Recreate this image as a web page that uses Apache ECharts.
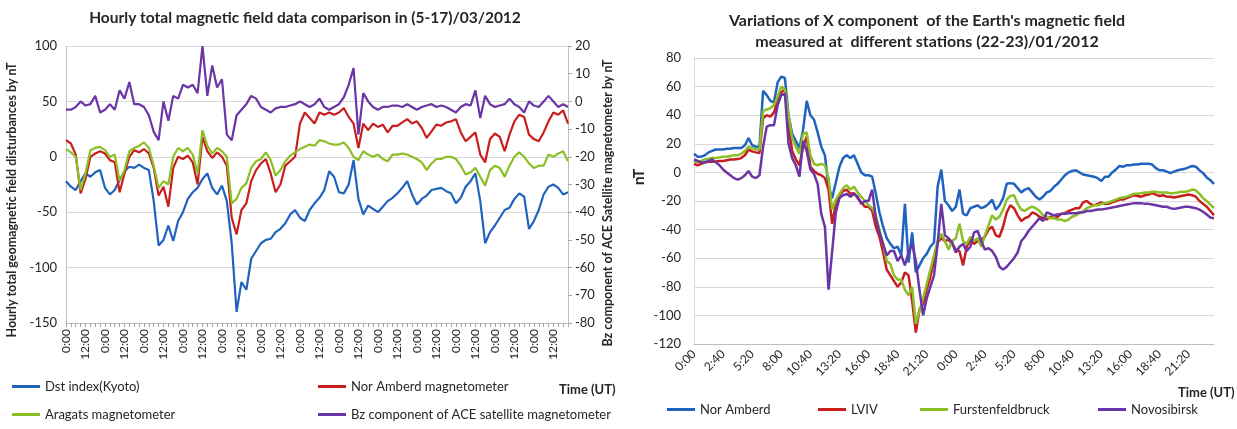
<!DOCTYPE html>
<html>
<head>
<meta charset="utf-8">
<script src="https://cdn.jsdelivr.net/npm/echarts@6/dist/echarts.min.js"></script>
<style>
html, body { margin: 0; padding: 0; background: #fff; }
#left { position: absolute; left: 0; top: 0; width: 620px; height: 429px; }
#right { position: absolute; left: 620px; top: 0; width: 617px; height: 429px; }
</style>
</head>
<body>
<div id="left"></div>
<div id="right"></div>
<script>
// ---- left chart: 3-hourly values, 5-17 March 2012 ----
var dayHours = ['0:00', '3:00', '6:00', '9:00', '12:00', '15:00', '18:00', '21:00'];
var leftTimes = [];
for (var d = 0; d < 13; d++) leftTimes = leftTimes.concat(dayHours);

var dstKyoto = [
  -22, -27, -30, -22, -15, -18, -14, -12,
  -28, -34, -30, -21, -13, -9, -10, -7,
  -10, -12, -40, -80, -75, -62, -76, -58,
  -50, -38, -32, -28, -20, -15, -28, -34,
  -26, -40, -78, -140, -113, -120, -92, -85,
  -78, -75, -74, -68, -65, -60, -52, -48,
  -55, -58, -48, -42, -37, -30, -13, -18,
  -32, -33, -25, -3, -38, -52, -44, -47,
  -50, -45, -40, -37, -33, -28, -22, -34,
  -43, -38, -35, -30, -29, -28, -31, -33,
  -42, -37, -27, -22, -15, -40, -78, -68,
  -62, -55, -48, -46, -38, -33, -36, -65,
  -58, -48, -34, -27, -25, -28, -34, -32
];
var norAmberdMag = [
  15, 12, 2, -33, -20, 0, 3, 5,
  3, -3, -5, -32, -15, 0, 6, 4,
  7, 3, -10, -35, -27, -45, -10, 0,
  -2, 1, -5, -25, 18, 5, -1, 4,
  0, -8, -55, -70, -48, -42, -22, -12,
  -6, -2, -15, -32, -25, -8, -4, 0,
  30, 40, 35, 30, 40, 38, 40, 38,
  40, 44, 36, 30, 8, 30, 24, 30,
  27, 29, 22, 28, 28, 31, 34, 30,
  32, 26, 17, 23, 29, 28, 31, 32,
  34, 22, 14, 18, 22, 2, -5, 16,
  21, 18, 5, 20, 32, 38, 36, 20,
  16, 14, 22, 32, 40, 38, 42, 30
];
var aragatsMag = [
  7, 4, 0, -30, -15, 6, 8, 9,
  6, 0, 2, -22, -12, 5, 8, 10,
  13, 8, -8, -28, -22, -25, 0, 8,
  5, 8, 2, -15, 24, 10, 3, 8,
  5, 0, -42, -38, -28, -24, -10, -4,
  -2, 4, -3, -17, -12, -4, 1, 4,
  7, 9, 11, 10, 15, 14, 12, 11,
  11, 13, 8, 0, -3, 5, 2, 0,
  2, -2, -4, 2, 2, 3, 2, 0,
  -2, -5, -12, -6, -2, -2, 0, 0,
  -2, -8, -16, -14, -10, -18, -26, -12,
  -8, -10, -18, -8, 0, 4, 0, -6,
  -10, -8, -8, 2, 0, 3, 5, -4
];
// Bz is read on the right axis
var bzAce = [
  -3, -3, -2, 0, -1.5, -1, 2, -4,
  -3, -1, -3, 4, 1, 7, -1, -1,
  -2, -5, -11, -14, 0, -7, 2, 1,
  6, 5, 6, 3, 20, 2, 13, 5,
  8, -12, -14, -5, -3, -1, 2, 1,
  -2, -3, -4, -2.5, -2, -2, -1.5, -1,
  0, -1, -2, -1, 1, -2, -3, -2,
  -1, 1.5, 6, 12, -12, 3, 0, -2,
  -3, -2, -2, -1.5, -1.5, -2, -1, -2,
  -3, -2, -1.5, -1, -2, -1.5, -2, -3,
  -4, -2, -1, -1.5, 4, -6, 2, -1,
  -2, -1.5, -1, 1, -1, -2, -4, 0,
  -1.5, -2, 0, 2, 0, -2, -1, -2
];

// ---- right chart: 20-minute values, 22-23 January 2012 ----
var dayMinutes = ['0:00','0:20','0:40','1:00','1:20','1:40','2:00','2:20','2:40','3:00','3:20','3:40',
  '4:00','4:20','4:40','5:00','5:20','5:40','6:00','6:20','6:40','7:00','7:20','7:40',
  '8:00','8:20','8:40','9:00','9:20','9:40','10:00','10:20','10:40','11:00','11:20','11:40',
  '12:00','12:20','12:40','13:00','13:20','13:40','14:00','14:20','14:40','15:00','15:20','15:40',
  '16:00','16:20','16:40','17:00','17:20','17:40','18:00','18:20','18:40','19:00','19:20','19:40',
  '20:00','20:20','20:40','21:00','21:20','21:40','22:00','22:20','22:40','23:00','23:20','23:40'];
var rightTimes = dayMinutes.concat(dayMinutes);

var norAmberd = [
  13, 11, 11, 12, 14, 15, 16, 16,
  16, 16.5, 16.5, 17, 17, 17, 19, 24,
  19, 18, 18, 57, 54, 50, 49, 63,
  67, 66, 40, 27, 22, 17, 30, 50,
  40, 37, 28, 18, 12, -10, -18, -7,
  4, 10, 12, 10, 12, 6, 0, -2,
  -2, -3, -15, -28, -38, -46, -50, -53,
  -52, -58, -22, -63, -42, -70, -65, -60,
  -57, -52, -49, -10, 2, -20, -23, -27,
  -24, -12, -29, -30, -25, -24, -23, -25,
  -24, -22, -19, -26, -23, -18, -8, -7.5,
  -8, -11, -14, -12, -11, -14, -17, -19,
  -17, -14, -13, -10, -8, -5, -2, 0,
  1, 1.5, 0, -1.5, -2, -2.5, -3, -4,
  -6, -3, -3, 0, 2, 4.5, 4, 5,
  5, 5.5, 5.5, 6, 6, 6, 5.5, 3,
  1.5, 1.5, 0.5, -0.5, 0.5, 1.5, 2, 2.5,
  3.5, 4.5, 4, 1.5, -0.5, -3.5, -5.5, -8
];
var lviv = [
  6, 5, 6, 7, 7.5, 7.5, 7.7, 8,
  8, 8.5, 9, 9, 9.3, 10, 12, 16,
  14.7, 14, 13.5, 38, 40, 39, 42, 50,
  56, 58, 32, 15, 9, 5, 18, 25,
  4, 1, -1, -2, -4, -12, -36, -22,
  -16, -13, -12, -15, -14.5, -18, -21, -24,
  -24, -27, -38, -45, -56, -68, -72, -76,
  -80, -77, -70, -72, -90, -112, -96, -92,
  -82, -73, -62, -49, -46, -48, -47, -50,
  -54, -55, -65, -52, -47, -50, -48, -47,
  -45, -40, -38, -44, -45, -38, -28, -23,
  -25, -30, -34, -32, -31, -28, -29, -31,
  -32, -33, -31, -32, -31, -29, -28.5, -27,
  -26, -25, -25, -21, -20, -22, -23, -22,
  -21, -22, -22, -21, -20, -19, -19, -18,
  -17, -16, -16.5, -17, -16, -15.5, -14.5, -15.5,
  -16.5, -16, -17, -17, -17.5, -17, -16.5, -16,
  -15.5, -16, -17, -20, -22, -24, -27, -30
];
var furstenfeldbruck = [
  8, 7, 8, 9, 9.5, 10, 10, 10.5,
  11, 11, 11.5, 12, 12, 13, 15, 18,
  17, 16, 16, 43, 44, 45, 47, 53,
  60, 58, 40, 24, 18, 13, 27, 28,
  12, 6, 5, 6, 5, -4, -26, -19,
  -15, -11, -9, -12, -10, -14, -17, -20,
  -23, -25, -30, -40, -50, -62, -64, -72,
  -75, -75, -82, -86, -80, -106, -97, -88,
  -78, -68, -58, -48, -43, -48, -54, -48,
  -46, -36, -48, -50, -45, -48, -46, -52,
  -44, -37, -30, -33, -31, -26, -19, -16.5,
  -16, -22, -26, -27, -25, -24, -25, -27,
  -30, -31, -32, -32, -33, -33, -34, -33,
  -31, -30, -28.5, -27, -25, -24, -23, -23,
  -22, -21.5, -21, -20, -19, -18, -17.5, -17,
  -16, -15, -15, -14.5, -14, -14, -13.5, -13.5,
  -14, -14, -14, -14.5, -14.5, -14, -13.5, -13.5,
  -13, -12, -12.5, -15, -18, -20, -22.5, -25
];
var novosibirsk = [
  9, 8, 7, 7, 8, 9, 7, 5,
  2, 0, -2, -4, -5, -4, -2, 1,
  -3, -4, -2, 18, 32, 33, 33, 47,
  54, 55, 20, 10, 5, -3, 22, 15,
  2, -1, -8, -29, -38, -82, -55, -28,
  -18, -16, -15, -17, -15, -17, -22, -20,
  -20, -12, -32, -42, -50, -58, -55, -55,
  -62, -58, -65, -56, -50, -62, -82, -100,
  -88, -80, -72, -50, -22, -44, -46, -49,
  -56, -52, -50, -55, -52, -42, -41, -48,
  -54, -53, -55, -59, -66, -68, -66, -63,
  -60, -56, -48, -45, -41, -38, -35, -32,
  -34, -28, -29, -30, -29.5, -29, -29, -28.5,
  -28.5, -28.5, -28, -28, -27, -27, -26.5, -26,
  -26, -25.5, -25, -24.5, -24, -23.5, -23, -22.5,
  -22, -21.5, -21.5, -21.5, -22, -22, -22.5, -23,
  -23.5, -24, -24, -25, -25.5, -25, -24.5, -24,
  -24, -24.5, -25, -26, -27.5, -29.5, -31.5, -32
];

var FONT = 'Lato';
var BLUE = '#1F63BF', RED = '#C81E1E', GREEN = '#8CBF26', PURPLE = '#6A35A5';
var TXT = '#262626';

function lineSeries(name, data, color, axis, width) {
  return {
    name: name, type: 'line', data: data, yAxisIndex: axis || 0,
    symbol: 'none', showSymbol: false, smooth: false,
    lineStyle: { color: color, width: width },
    itemStyle: { color: color }
  };
}
function legendAt(name, left, top) {
  return {
    data: [name], left: left, top: top, padding: 0,
    icon: 'rect', itemWidth: 28, itemHeight: 3, itemGap: 0,
    textStyle: { fontFamily: FONT, fontSize: 13, color: TXT }
  };
}
function rotatedName(text, x, y, size) {
  return { type: 'text', x: x, y: y, rotation: Math.PI / 2,
    style: { text: text, font: 'bold ' + size + 'px ' + FONT, fill: TXT,
      textAlign: 'center', textVerticalAlign: 'middle', align: 'center', verticalAlign: 'middle' } };
}

var leftChart = echarts.init(document.getElementById('left'));
leftChart.setOption({
  animation: false,
  backgroundColor: '#fff',
  title: [
    { text: 'Hourly total magnetic field data comparison in (5-17)/03/2012', left: 300, top: 5, textAlign: 'center',
      textStyle: { fontFamily: FONT, fontSize: 15.5, fontWeight: 'bold', color: TXT } },
    { text: 'Time (UT)', left: 554, top: 378,
      textStyle: { fontFamily: FONT, fontSize: 13, fontWeight: 'bold', color: TXT } }
  ],
  legend: [
    legendAt('Dst index(Kyoto)', 12, 380),
    legendAt('Nor Amberd magnetometer', 318, 380),
    legendAt('Aragats magnetometer', 12, 408),
    legendAt('Bz component of ACE satellite magnetometer', 318, 408)
  ],
  graphic: [
    rotatedName('Hourly total geomagnetic field disturbances by nT', 12, 200, 12.5),
    rotatedName('Bz component of ACE Satellite magnetometer by nT', 608, 203, 12.5)
  ],
  grid: { left: 66, right: 52, top: 46, bottom: 106, outerBoundsMode: 'none' },
  xAxis: {
    type: 'category', data: leftTimes, boundaryGap: false,
    axisLine: { onZero: false, lineStyle: { color: '#BFBFBF' } },
    axisTick: { interval: 0, length: 4, lineStyle: { color: '#A6A6A6' } },
    axisLabel: { interval: 3, rotate: 90, margin: 6, fontFamily: FONT, fontSize: 12, color: TXT },
    splitLine: { show: false }
  },
  yAxis: [
    { type: 'value', min: -150, max: 100, interval: 50,
      axisLine: { show: true, lineStyle: { color: '#BFBFBF' } },
      axisTick: { show: false },
      axisLabel: { margin: 9, fontFamily: FONT, fontSize: 13, color: TXT },
      splitLine: { lineStyle: { color: '#D9D9D9' } } },
    { type: 'value', min: -80, max: 20, interval: 10, position: 'right',
      axisLine: { show: true, lineStyle: { color: '#BFBFBF' } },
      axisTick: { show: true, length: 4, lineStyle: { color: '#A6A6A6' } },
      axisLabel: { margin: 7, fontFamily: FONT, fontSize: 13, color: TXT },
      splitLine: { show: false } }
  ],
  series: [
    lineSeries('Dst index(Kyoto)', dstKyoto, BLUE, 0, 2.2),
    lineSeries('Nor Amberd magnetometer', norAmberdMag, RED, 0, 2.2),
    lineSeries('Aragats magnetometer', aragatsMag, GREEN, 0, 2.2),
    lineSeries('Bz component of ACE satellite magnetometer', bzAce, PURPLE, 1, 2.2)
  ]
});

var rightChart = echarts.init(document.getElementById('right'));
rightChart.setOption({
  animation: false,
  backgroundColor: '#fff',
  title: [
    { text: "Variations of X component  of the Earth's magnetic field\nmeasured at  different stations (22-23)/01/2012",
      left: 302, top: 5, textAlign: 'center',
      textStyle: { fontFamily: FONT, fontSize: 16, fontWeight: 'bold', color: TXT, lineHeight: 21 } },
    { text: 'Time (UT)', left: 553, top: 381,
      textStyle: { fontFamily: FONT, fontSize: 13, fontWeight: 'bold', color: TXT } }
  ],
  legend: [
    legendAt('Nor Amberd', 47, 403),
    legendAt('LVIV', 198, 403),
    legendAt('Furstenfeldbruck', 300, 403),
    legendAt('Novosibirsk', 478, 403)
  ],
  graphic: [
    rotatedName('nT', 19, 177, 16)
  ],
  grid: { left: 74, right: 23, top: 58, bottom: 85, outerBoundsMode: 'none' },
  xAxis: {
    type: 'category', data: rightTimes, boundaryGap: false,
    axisLine: { onZero: false, lineStyle: { color: '#BFBFBF' } },
    axisTick: { show: false },
    axisLabel: { interval: 7, rotate: 45, margin: 8, fontFamily: FONT, fontSize: 12, color: TXT },
    splitLine: { show: false }
  },
  yAxis: {
    type: 'value', min: -120, max: 80, interval: 20,
    axisLine: { show: true, lineStyle: { color: '#D9D9D9' } },
    axisTick: { show: false },
    axisLabel: { margin: 13, fontFamily: FONT, fontSize: 13, color: TXT },
    splitLine: { lineStyle: { color: '#D9D9D9' } }
  },
  series: [
    lineSeries('Nor Amberd', norAmberd, BLUE, 0, 2.5),
    lineSeries('LVIV', lviv, RED, 0, 2.5),
    lineSeries('Furstenfeldbruck', furstenfeldbruck, GREEN, 0, 2.5),
    lineSeries('Novosibirsk', novosibirsk, PURPLE, 0, 2.5)
  ]
});
</script>
</body>
</html>
